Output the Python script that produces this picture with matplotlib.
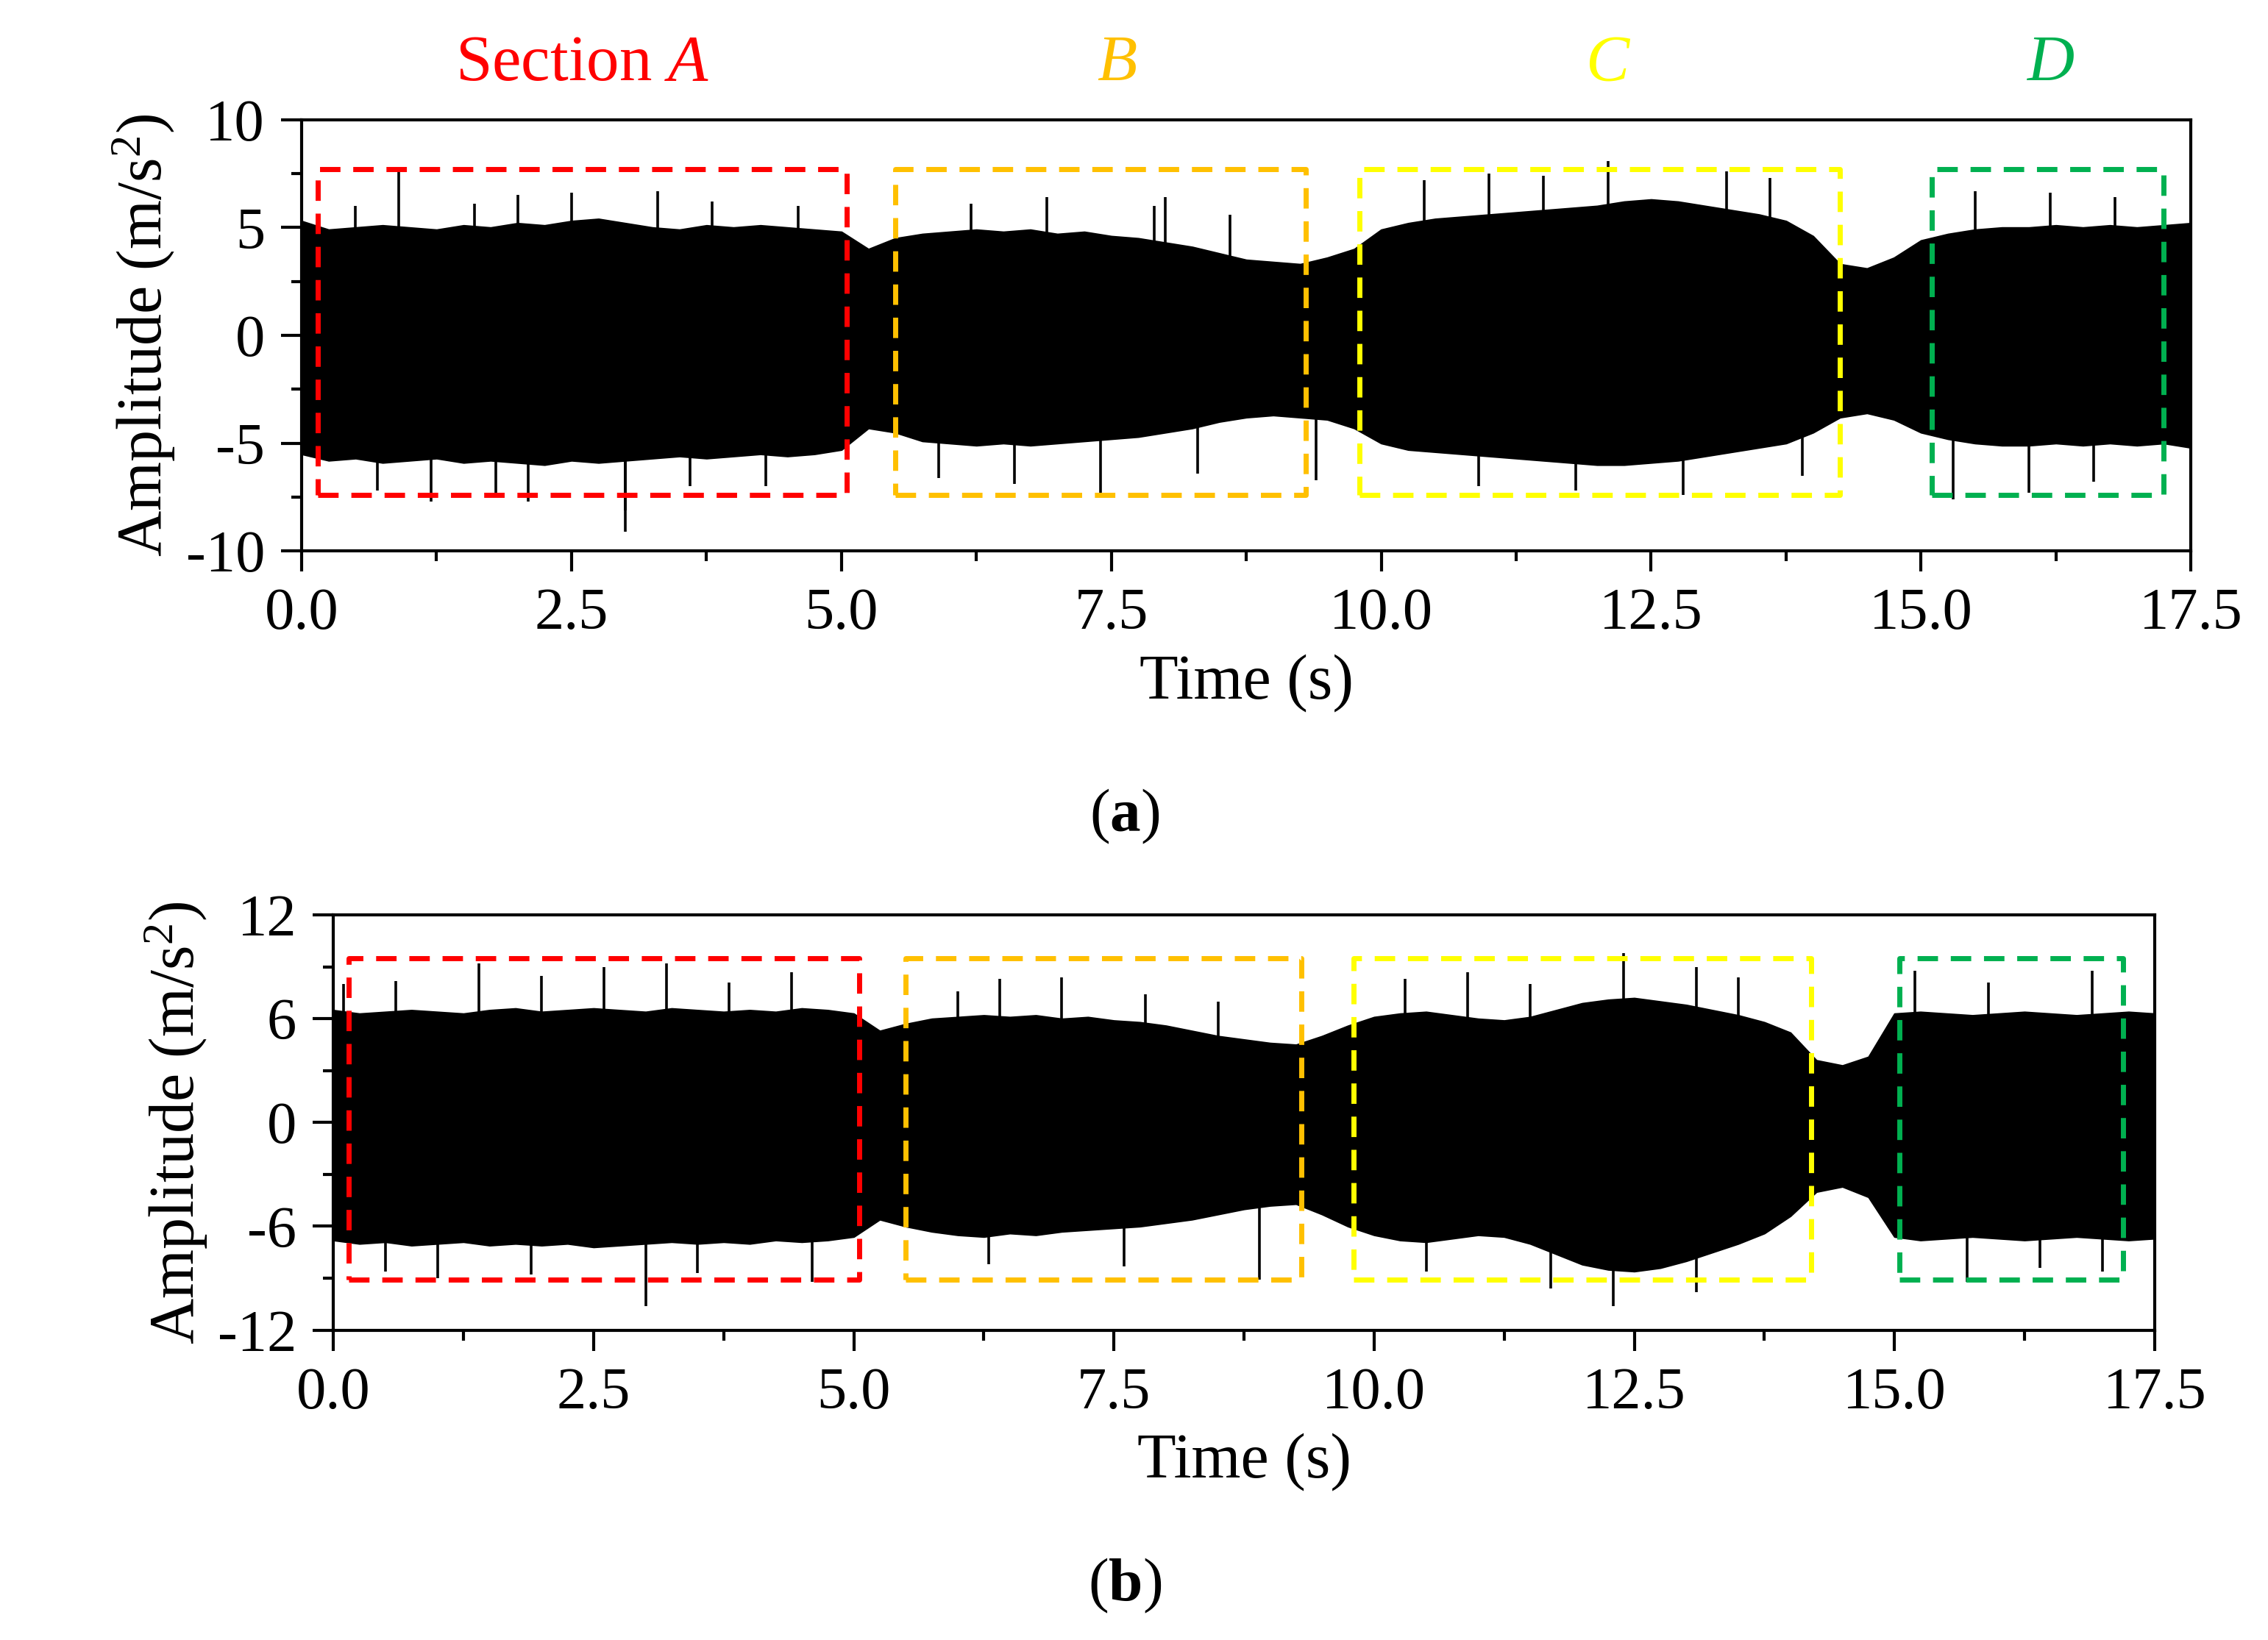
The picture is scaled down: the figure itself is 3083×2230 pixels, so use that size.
import numpy as np
import matplotlib
matplotlib.use("Agg")
import matplotlib.pyplot as plt
from matplotlib.ticker import MultipleLocator

plt.rcParams['font.family'] = 'Liberation Serif'
plt.rcParams['mathtext.fontset'] = 'custom'
plt.rcParams['mathtext.rm'] = 'Liberation Serif'
plt.rcParams['mathtext.it'] = 'Liberation Serif:italic'
plt.rcParams['mathtext.bf'] = 'Liberation Serif:bold'
plt.rcParams['axes.unicode_minus'] = False

# envelope sample times (s)
t_env = [i * 0.25 for i in range(71)]
# panel (a) envelopes (m/s^2)
a_up = [5.3,4.9,5.0,5.1,5.0,4.9,5.1,5.0,5.2,5.1,5.3,5.4,5.2,5.0,4.9,5.1,5.0,5.1,5.0,4.9,4.8,4.0,4.5,4.7,
        4.8,4.9,4.8,4.9,4.7,4.8,4.6,4.5,4.3,4.1,3.8,3.5,3.4,3.3,3.6,4.0,4.9,5.2,5.4,5.5,5.6,5.7,5.8,5.9,
        6.0,6.2,6.3,6.2,6.0,5.8,5.6,5.3,4.6,3.3,3.1,3.6,4.4,4.7,4.9,5.0,5.0,5.1,5.0,5.1,5.0,5.1,5.2]
a_lo = [-5.5,-5.8,-5.7,-5.9,-5.8,-5.7,-5.9,-5.8,-5.9,-6.0,-5.8,-5.9,-5.8,-5.7,-5.6,-5.7,-5.6,-5.5,-5.6,-5.5,-5.3,-4.3,-4.5,-4.9,
        -5.0,-5.1,-5.0,-5.1,-5.0,-4.9,-4.8,-4.7,-4.5,-4.3,-4.0,-3.8,-3.7,-3.8,-3.9,-4.3,-5.0,-5.3,-5.4,-5.5,-5.6,-5.7,-5.8,-5.9,
        -6.0,-6.0,-5.9,-5.8,-5.6,-5.4,-5.2,-5.0,-4.5,-3.8,-3.6,-3.9,-4.5,-4.8,-5.0,-5.1,-5.1,-5.0,-5.1,-5.0,-5.1,-5.0,-5.2]
# panel (b) envelopes
b_up = [6.5,6.3,6.4,6.5,6.4,6.3,6.5,6.6,6.4,6.5,6.6,6.5,6.4,6.6,6.5,6.4,6.5,6.4,6.6,6.5,6.3,5.3,5.7,6.0,
        6.1,6.2,6.1,6.2,6.0,6.1,5.9,5.8,5.6,5.3,5.0,4.8,4.6,4.5,5.0,5.6,6.1,6.3,6.4,6.2,6.0,5.9,6.1,6.5,
        6.9,7.1,7.2,7.0,6.8,6.5,6.2,5.8,5.2,3.6,3.3,3.8,6.3,6.4,6.3,6.2,6.3,6.4,6.3,6.2,6.3,6.4,6.3]
b_lo = [-6.8,-7.0,-6.9,-7.1,-7.0,-6.9,-7.1,-7.0,-7.1,-7.0,-7.2,-7.1,-7.0,-6.9,-7.0,-6.9,-7.0,-6.8,-6.9,-6.8,-6.6,-5.6,-6.0,-6.3,
        -6.5,-6.6,-6.4,-6.5,-6.3,-6.2,-6.1,-6.0,-5.8,-5.6,-5.3,-5.0,-4.8,-4.7,-5.3,-6.0,-6.5,-6.8,-6.9,-6.7,-6.5,-6.6,-7.0,-7.6,
        -8.2,-8.5,-8.6,-8.4,-8.0,-7.5,-7.0,-6.4,-5.4,-4.0,-3.7,-4.3,-6.6,-6.8,-6.7,-6.6,-6.7,-6.8,-6.7,-6.6,-6.7,-6.8,-6.7]
# spikes: (time, peak) pairs
a_spikes_t = [0.9,2.0,2.5,3.0,3.3,6.9,8.0,11.5,12.1,13.2,15.5,16.2,1.2,2.1,3.0,4.3,7.4,9.4,12.8,15.3,16.0,
              0.5,1.6,3.8,4.6,6.2,7.9,8.6,10.4,11.0,13.6,16.8,0.7,1.8,3.6,5.9,6.6,8.3,10.9,11.8,13.9,16.6]
a_spikes_v = [7.6,6.5,6.6,-9.1,6.7,6.4,6.4,7.4,8.1,7.6,6.7,6.6,-7.7,-7.7,-8.1,-7.0,-7.3,-6.7,-7.4,-7.6,-7.3,
              6.0,6.1,6.2,6.0,6.1,6.0,5.6,7.2,7.5,7.3,6.4,-7.2,-7.3,-7.0,-6.6,-6.9,-6.4,-7.0,-7.2,-6.5,-6.8]
b_spikes_t = [0.1,1.4,2.6,3.2,6.4,7.0,11.5,12.4,13.1,15.2,16.9,1.0,3.0,4.6,8.9,12.3,13.1,15.7,17.0,
              0.6,2.0,3.8,4.4,6.0,7.8,8.5,10.3,10.9,13.5,15.9,0.5,1.9,3.5,6.3,7.6,10.5,11.7,16.4]
b_spikes_v = [8.0,9.2,9.0,9.2,8.3,8.4,8.0,9.8,9.0,8.8,8.8,-9.0,-10.6,-9.2,-9.1,-10.6,-9.8,-9.2,-8.6,
              8.2,8.5,8.1,8.7,7.6,7.4,7.0,8.3,8.7,8.4,8.1,-8.6,-8.8,-8.7,-8.2,-8.3,-8.6,-9.6,-8.4]

sections = ['A', 'B', 'C', 'D']
sec_colors = ['#ff0000', '#ffc000', '#ffff00', '#00b050']
a_boxes = [(0.15, 5.05), (5.5, 9.3), (9.8, 14.25), (15.1, 17.25)]
b_boxes = [(0.15, 5.05), (5.5, 9.3), (9.8, 14.2), (15.05, 17.2)]
a_box_y = (-7.4, 7.7)
b_box_y = (-9.1, 9.5)

fig = plt.figure(figsize=(15.415, 11.15), dpi=200)
ax1 = fig.add_axes([0.133, 0.664, 0.833, 0.263])
ax2 = fig.add_axes([0.147, 0.189, 0.803, 0.253])

def draw(ax, up, lo, st, sv, boxes, by, ylim, ymaj, ymin):
    ax.fill_between(t_env, lo, up, color='black', lw=0.8, edgecolor='black')
    ax.vlines(st, 0, sv, color='black', lw=1.3)
    for (x0, x1), c in zip(boxes, sec_colors):
        ax.plot([x0, x1, x1, x0, x0], [by[0], by[0], by[1], by[1], by[0]],
                color=c, lw=2.5, ls=(0, (4, 2.5)))
    ax.set_xlim(0, 17.5)
    ax.set_ylim(*ylim)
    ax.xaxis.set_major_locator(MultipleLocator(2.5))
    ax.xaxis.set_minor_locator(MultipleLocator(1.25))
    ax.yaxis.set_major_locator(MultipleLocator(ymaj))
    ax.yaxis.set_minor_locator(MultipleLocator(ymin))
    ax.xaxis.set_major_formatter(matplotlib.ticker.FormatStrFormatter('%.1f'))
    ax.tick_params(which='major', length=10, width=1.5, labelsize=29, pad=8)
    ax.tick_params(which='minor', length=5, width=1.5)
    for s in ax.spines.values():
        s.set_linewidth(1.5)
    ax.set_xlabel('Time (s)', fontsize=31, labelpad=6)
    ax.set_ylabel('Amplitude (m/s$^2$)', fontsize=31, labelpad=4)

draw(ax1, a_up, a_lo, a_spikes_t, a_spikes_v, a_boxes, a_box_y, (-10, 10), 5, 2.5)
draw(ax2, b_up, b_lo, b_spikes_t, b_spikes_v, b_boxes, b_box_y, (-12, 12), 6, 3)

lab_x = [2.6, 7.55, 12.1, 16.2]
lab_txt = ['Section $\\mathit{A}$', '$\\mathit{B}$', '$\\mathit{C}$', '$\\mathit{D}$']
for x, s, c in zip(lab_x, lab_txt, sec_colors):
    ax1.text(x, 1.06, s, color=c, fontsize=32, ha='center', va='bottom',
             transform=ax1.get_xaxis_transform())

fig.text(0.496, 0.502, '($\\mathbf{a}$)', fontsize=30, ha='center', va='center')
fig.text(0.496, 0.033, '($\\mathbf{b}$)', fontsize=30, ha='center', va='center')

fig.savefig('out.png', dpi=200)
